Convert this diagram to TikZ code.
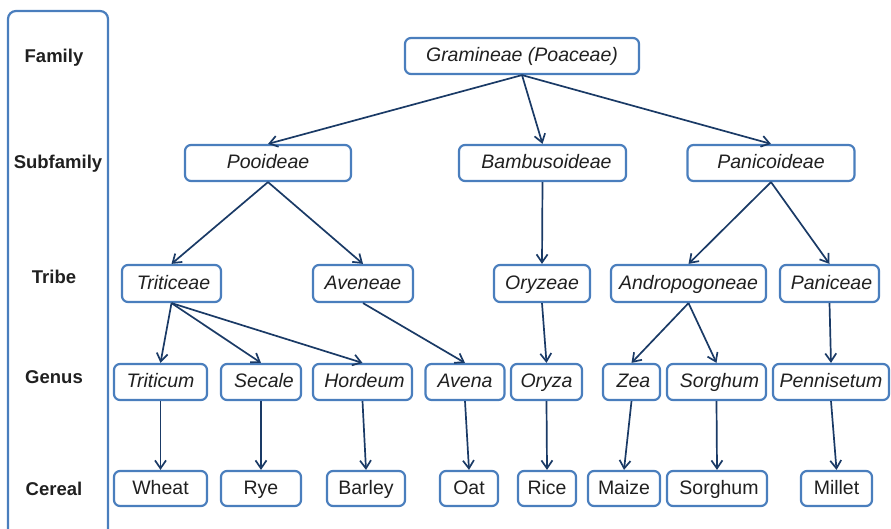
\documentclass[tikz,border=0pt]{standalone}
\usepackage{fontspec}
\setmainfont{Liberation Sans}
\usetikzlibrary{arrows.meta}
\definecolor{boxblue}{RGB}{74,126,189}
\definecolor{arrownavy}{RGB}{26,58,102}
\definecolor{inkgray}{RGB}{32,32,32}
\begin{document}
\begin{tikzpicture}[x=1pt,y=-1pt,
  taxon/.style={draw=boxblue,line width=2.2pt,rounded corners=6pt,fill=white,
    minimum height=36pt,inner sep=0pt,text=inkgray,text height=14pt,text depth=3pt,
    font=\fontsize{19.5}{23}\selectfont\itshape},
  crop/.style={taxon,font=\fontsize{19.5}{23}\selectfont},
  rank/.style={text=inkgray,font=\fontsize{18.5}{22}\selectfont\bfseries},
  link/.style={draw=arrownavy,line width=1.7pt,-{Straight Barb[length=8pt,width=11pt]}}]
\useasboundingbox (0,0) rectangle (891,529);
\draw[boxblue,line width=2.2pt,rounded corners=8pt] (8,529)--(8,11)--(108,11)--(108,529);
\node[rank] (lfam) at (54,58) {Family};
\node[rank] (lsub) at (58,164) {Subfamily};
\node[rank] (ltri) at (54,277) {Tribe};
\node[rank] (lgen) at (54,377) {Genus};
\node[rank] (lcer) at (54,489) {Cereal};
% family and subfamilies
\node[taxon,minimum width=234pt] (gram) at (522,56) {Gramineae (Poaceae)};
\node[taxon,minimum width=166pt] (pooi) at (268,163) {Pooideae};
\node[taxon,minimum width=167pt] (bamb) at (542.5,163) {\hspace*{8pt}Bambusoideae};
\node[taxon,minimum width=167pt] (pcoi) at (771,163) {Panicoideae};
% tribes
\node[taxon,minimum width=99pt,minimum height=37pt] (trit) at (171.5,283.5) {\hspace*{4pt}Triticeae};
\node[taxon,minimum width=100pt,minimum height=37pt] (aven) at (363,283.5) {Aveneae};
\node[taxon,minimum width=96pt,minimum height=37pt] (oryz) at (542,283.5) {Oryzeae};
\node[taxon,minimum width=155pt,minimum height=37pt] (andr) at (688.5,283.5) {Andropogoneae};
\node[taxon,minimum width=99pt,minimum height=37pt] (pnce) at (829.5,283.5) {\hspace*{4pt}Paniceae};
% genera
\node[taxon,minimum width=93pt] (gtrit) at (160.5,382) {Triticum};
\node[taxon,minimum width=80pt] (gseca) at (261,382) {\hspace*{6pt}Secale};
\node[taxon,minimum width=99pt] (ghord) at (362.5,382) {\hspace*{4pt}Hordeum};
\node[taxon,minimum width=79pt] (gaven) at (465,382) {Avena};
\node[taxon,minimum width=71pt] (goryz) at (546.5,382) {Oryza};
\node[taxon,minimum width=57pt] (gzea) at (631.5,382) {\hspace*{4pt}Zea};
\node[taxon,minimum width=99pt] (gsorg) at (716.5,382) {\hspace*{6pt}Sorghum};
\node[taxon,minimum width=116pt] (gpenn) at (831,382) {Pennisetum};
% cereals
\node[crop,minimum width=93pt,minimum height=35pt] (wheat) at (160.5,488.5) {Wheat};
\node[crop,minimum width=80pt,minimum height=35pt] (rye) at (261,488.5) {Rye};
\node[crop,minimum width=78pt,minimum height=35pt] (barley) at (366,488.5) {Barley};
\node[crop,minimum width=58pt,minimum height=35pt] (oat) at (469,488.5) {Oat};
\node[crop,minimum width=58pt,minimum height=35pt] (rice) at (547,488.5) {Rice};
\node[crop,minimum width=72pt,minimum height=35pt] (maize) at (624,488.5) {Maize};
\node[crop,minimum width=100pt,minimum height=35pt] (sorgh) at (717,488.5) {\hspace*{4pt}Sorghum};
\node[crop,minimum width=71pt,minimum height=35pt] (millet) at (836.5,488.5) {Millet};
\foreach \a/\b in {gram/pooi,gram/bamb,gram/pcoi,
  pooi/trit,pooi/aven,bamb/oryz,pcoi/andr,pcoi/pnce,
  trit/gtrit,trit/gseca,trit/ghord,aven/gaven,oryz/goryz,andr/gzea,andr/gsorg,pnce/gpenn,
  gtrit/wheat,gseca/rye,ghord/barley,gaven/oat,goryz/rice,gzea/maize,gsorg/sorgh,gpenn/millet}
  \draw[link] (\a.south) -- (\b.north);
\end{tikzpicture}
\end{document}
